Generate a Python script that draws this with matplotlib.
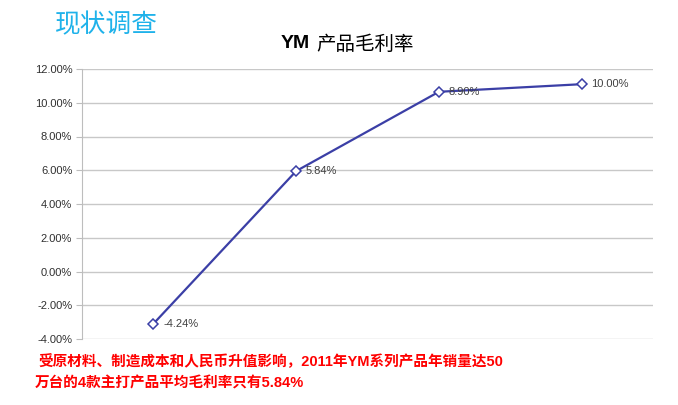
import matplotlib
matplotlib.use('Agg')
from matplotlib import pyplot as plt

plt.rcParams['font.family'] = ['Noto Sans CJK SC', 'DejaVu Sans']

# 数据
categories = ['1', '2', '3', '4']
values = [-3.1, 5.95, 10.65, 11.1]          # 图上点的位置 (%)
point_labels = ['-4.24%', '5.84%', '8.90%', '10.00%']
y_ticks = [-4, -2, 0, 2, 4, 6, 8, 10, 12]

fig = plt.figure(figsize=(6.78, 4.05), dpi=100)
ax = fig.add_axes([82 / 678, 1 - 339 / 405, (653 - 82) / 678, (339 - 69) / 405])

x = [i + 0.5 for i in range(len(categories))]
ax.plot(x, values, color='#3b3fa6', lw=1.6, marker='D', ms=5,
        markerfacecolor='white', markeredgecolor='#3b3fa6', markeredgewidth=1.1, zorder=3)
for xi, v, lab in zip(x, values, point_labels):
    ax.annotate(lab, (xi, v), xytext=(7, 0), textcoords='offset points',
                fontsize=8, color='#404040', va='center', ha='left', zorder=4,
                family=['Liberation Sans', 'DejaVu Sans'])

ax.set_xlim(0, len(categories))
ax.set_ylim(-4, 12)
ax.set_yticks(y_ticks)
ax.set_yticklabels(['%.2f%%' % t for t in y_ticks], fontsize=8, color='#303030',
                   family=['Liberation Sans', 'DejaVu Sans'])
ax.set_xticks([])
ax.grid(axis='y', color='#c8c8c8', lw=1)
ax.set_axisbelow(True)
for s in ['top', 'right', 'bottom']:
    ax.spines[s].set_visible(False)
ax.spines['left'].set_color('#bdbdbd')
ax.tick_params(axis='y', length=4, color='#bdbdbd', pad=3)

# 标题
fig.text(310 / 678, 1 - 44 / 405, 'YM', fontsize=14, fontweight='bold',
         ha='right', va='center', family=['Liberation Sans', 'DejaVu Sans'])
fig.text(316 / 678, 1 - 44 / 405, '产品毛利率', fontsize=14,
         ha='left', va='center')
fig.text(55 / 678, 1 - 25 / 405, '现状调查', fontsize=18.5, color='#1fb2ea',
         ha='left', va='center')

# 底部说明 (数字用 Arial 风格字体)
note_font = ['Liberation Sans', 'Noto Sans CJK SC']
fig.text(38 / 678, 1 - 362 / 405, '受原材料、制造成本和人民币升值影响，2011年YM系列产品年销量达50',
         fontsize=10.5, fontweight='bold', color='#ff0000', ha='left', va='center',
         family=note_font)
fig.text(35 / 678, 1 - 383 / 405, '万台的4款主打产品平均毛利率只有5.84%',
         fontsize=10.5, fontweight='bold', color='#ff0000', ha='left', va='center',
         family=note_font)

plt.savefig('out.png', dpi=100)
